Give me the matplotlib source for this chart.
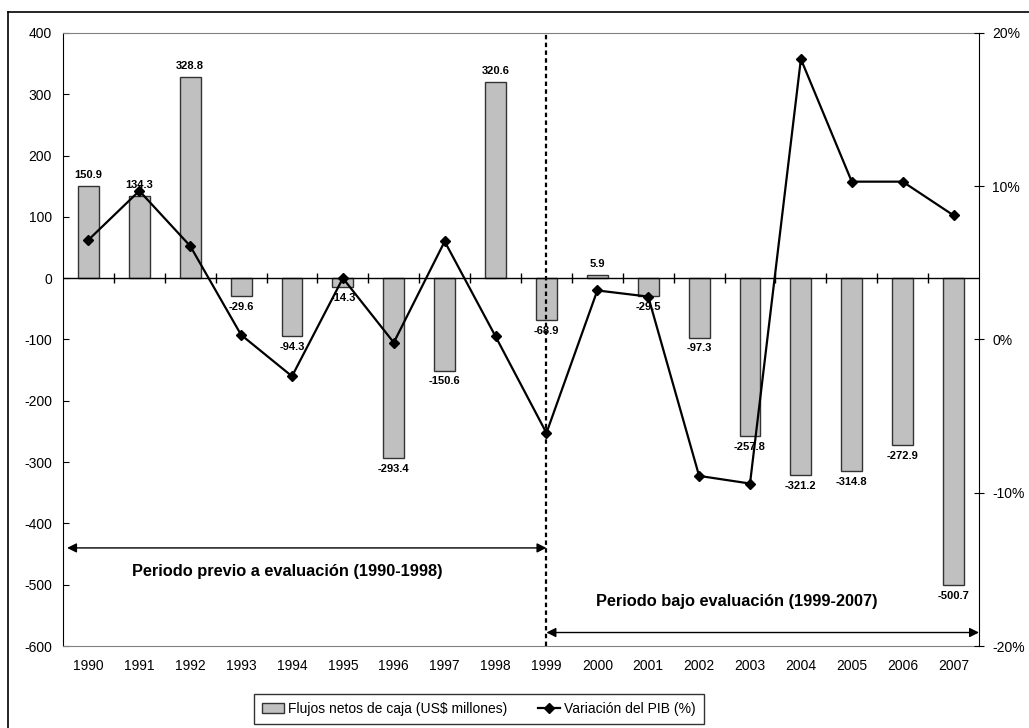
import matplotlib
matplotlib.use("Agg")
import matplotlib.pyplot as plt
import numpy as np
from matplotlib.lines import Line2D
from matplotlib.patches import Patch
from matplotlib.ticker import FuncFormatter

plt.rcParams['font.family'] = ['Liberation Sans', 'DejaVu Sans']
plt.rcParams['axes.unicode_minus'] = False

#%% Data
years = [str(y) for y in range(1990, 2008)]
flujos = [150.9, 134.3, 328.8, -29.6, -94.3, -14.3, -293.4, -150.6, 320.6,
          -68.9, 5.9, -29.5, -97.3, -257.8, -321.2, -314.8, -272.9, -500.7]
pib = [6.5, 9.7, 6.1, 0.3, -2.4, 4.0, -0.2, 6.4, 0.2,
       -6.1, 3.2, 2.8, -8.9, -9.4, 18.3, 10.3, 10.3, 8.1]
label_bars = "Flujos netos de caja (US$ millones)"
label_line = "Variación del PIB (%)"
txt_prev = "Periodo previo a evaluación (1990-1998)"
txt_bajo = "Periodo bajo evaluación (1999-2007)"

#%% Figure
fig = plt.figure(figsize=(10.29, 7.28), dpi=100)
ax = fig.add_axes([63/1029, 1 - 646/728, (979-63)/1029, (646-33)/728])
x = np.arange(len(years))

ax.bar(x, flujos, width=0.41, color='#C0C0C0', edgecolor='#333333',
       linewidth=1, zorder=2)
for xi, v in zip(x, flujos):
    if v >= 0:
        ax.annotate("%.1f" % v, (xi, v), xytext=(0, 4), textcoords='offset points',
                    ha='center', va='bottom', fontsize=8, fontweight='bold', zorder=5)
    else:
        ax.annotate("%.1f" % v, (xi, v), xytext=(0, -4), textcoords='offset points',
                    ha='center', va='top', fontsize=8, fontweight='bold', zorder=5)

ax.set_xlim(-0.5, len(years) - 0.5)
ax.set_ylim(-600, 400)
ax.set_yticks(np.arange(-600, 401, 100))
ax.set_xticks(x)
ax.set_xticklabels(years)
ax.tick_params(axis='x', length=0, pad=9, labelsize=10)
ax.tick_params(axis='y', direction='in', length=4, pad=8, labelsize=10,
               right=False)
for s in ['top', 'bottom']:
    ax.spines[s].set_color('#808080')
ax.spines['right'].set_visible(False)
ax.spines['left'].set_color('black')

# zero line with category ticks
ax.axhline(0, color='black', lw=1, zorder=3)
bounds = x[:-1] + 0.5
ax.plot(bounds, np.zeros(len(bounds)), ls='none', marker='|', ms=7,
        mew=1, color='black', zorder=3)

# separator
ax.axvline(9, color='black', lw=1.6, ls=(0, (2, 1.5)), zorder=4)

# period arrows
ax.annotate('', xy=(-0.42, -440), xytext=(9, -440),
            arrowprops=dict(arrowstyle='<|-|>', color='black', lw=1,
                            mutation_scale=14, shrinkA=0, shrinkB=0))
ax.annotate('', xy=(9, -578), xytext=(17.5, -578),
            arrowprops=dict(arrowstyle='<|-|>', color='black', lw=1,
                            mutation_scale=14, shrinkA=0, shrinkB=0))
ax.text(3.9, -479, txt_prev, ha='center', va='center', fontsize=11.8,
        fontweight='bold')
ax.text(12.74, -528, txt_bajo, ha='center', va='center', fontsize=11.8,
        fontweight='bold')

# secondary axis
ax2 = ax.twinx()
ax2.plot(x, pib, color='black', lw=1.6, marker='D', ms=5.5, zorder=6)
ax2.set_ylim(-20, 20)
ax2.set_yticks([-20, -10, 0, 10, 20])
ax2.yaxis.set_major_formatter(FuncFormatter(lambda v, p: "%d%%" % v))
ax2.tick_params(axis='y', direction='inout', length=7, pad=6, labelsize=10)
for s in ['top', 'bottom', 'left']:
    ax2.spines[s].set_visible(False)
ax2.spines['right'].set_color('black')
ax.set_zorder(ax2.get_zorder() - 1)
ax.patch.set_visible(True)
ax2.patch.set_visible(False)

# legend
handles = [Patch(facecolor='#C0C0C0', edgecolor='#333333', label=label_bars),
           Line2D([], [], color='black', lw=1.6, marker='D', ms=5, label=label_line)]
leg = fig.legend(handles=handles, loc='center', ncol=2,
                 bbox_to_anchor=(479/1029, 1 - 709/728), fontsize=10,
                 frameon=True, fancybox=False, edgecolor='black',
                 handlelength=1.6, handletextpad=0.3, columnspacing=2.2,
                 borderpad=0.6)
leg.get_frame().set_linewidth(1)

# outer frame
fig.add_artist(Line2D([8/1029, 8/1029], [0, 1 - 12/728], color='black', lw=1.2,
                      transform=fig.transFigure))
fig.add_artist(Line2D([8/1029, 1], [1 - 12/728, 1 - 12/728], color='black', lw=1.2,
                      transform=fig.transFigure))

fig.savefig("out.png", dpi=100)
